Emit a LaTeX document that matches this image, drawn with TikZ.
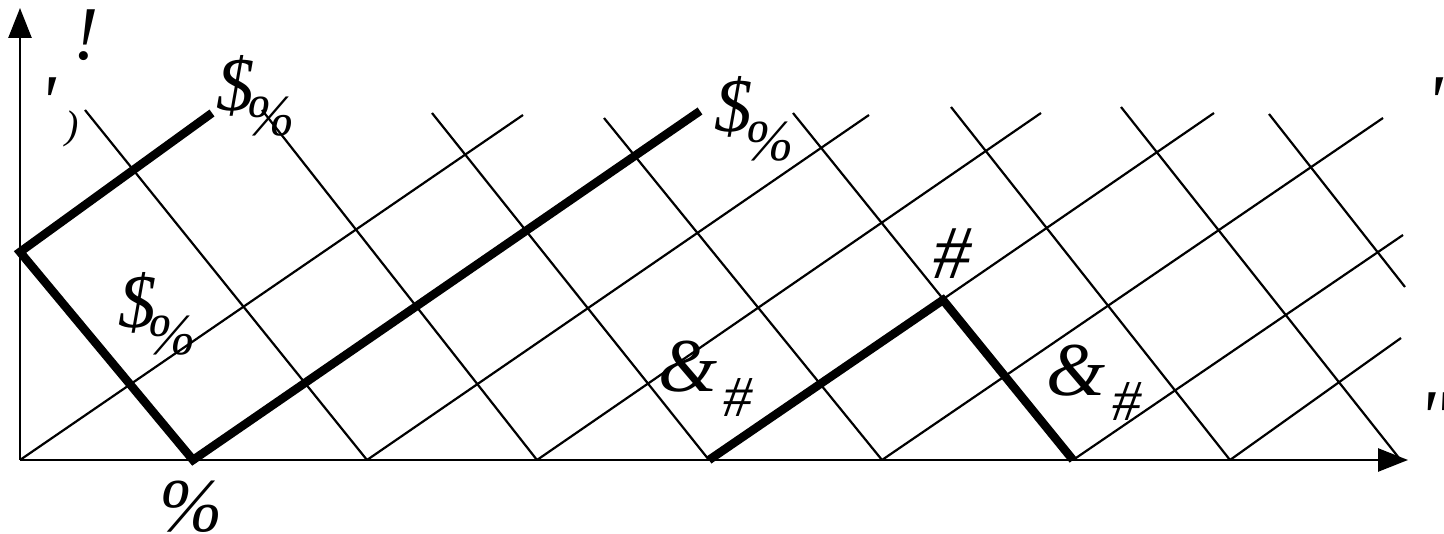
\documentclass[tikz,border=0pt]{standalone}
\usepackage{fontspec}
\newfontfamily\tnr{Liberation Serif}
\usetikzlibrary{arrows.meta}
\begin{document}
\begin{tikzpicture}[x=1pt,y=-1pt,
  gridline/.style={line width=2.2pt},
  boldline/.style={line width=8.5pt, line join=miter},
  axisline/.style={line width=2.6pt,-{Triangle[length=30pt,width=23pt]}},
  lbl/.style={inner sep=0pt, font=\tnr\fontsize{76}{80}\selectfont\itshape},
  sublbl/.style={inner sep=0pt, font=\tnr\fontsize{58}{62}\selectfont\itshape},
  smalllbl/.style={inner sep=0pt, font=\tnr\fontsize{40}{44}\selectfont\itshape}]
\useasboundingbox (0,0) rectangle (1444,534);
% axes
\coordinate (O) at (20,460);
\coordinate (X) at (1408,460);
\coordinate (Y) at (20,8);
% bottom points
\coordinate (b1) at (193,460);
\coordinate (b2) at (367,460);
\coordinate (b3) at (537,460);
\coordinate (b4) at (709,460);
\coordinate (b5) at (882,460);
\coordinate (b6) at (1073,460);
\coordinate (b7) at (1230,460);
\coordinate (b8) at (1399,458);
% top starts of falling lines
\coordinate (t1) at (85,110);
\coordinate (t2) at (262,110);
\coordinate (t3) at (432,113);
\coordinate (t4) at (604,118);
\coordinate (t5) at (793,113);
\coordinate (t6) at (951,107);
\coordinate (t7) at (1121,107);
\coordinate (t8) at (1269,114);
\coordinate (r1) at (1405,287);
% top ends of rising lines
\coordinate (u1) at (523,115);
\coordinate (u2) at (700,111);
\coordinate (u3) at (869,115);
\coordinate (u4) at (1041,113);
\coordinate (u5) at (1214,113);
\coordinate (u6) at (1383,118);
\coordinate (r2) at (1403,235);
\coordinate (r3) at (1401,338);
% thick path points
\coordinate (L) at (20,252);
\coordinate (A) at (212,113);
\coordinate (P) at (943,300);
% falling grid lines
\foreach \s/\e in {t1/b2,t2/b3,t3/b4,t4/b5,t5/b6,t6/b7,t7/b8,t8/r1}
  \draw[gridline] (\s) -- (\e);
% rising grid lines
\foreach \s/\e in {O/u1,b2/u3,b3/u4,b4/u5,b5/u6,b6/r2,b7/r3}
  \draw[gridline] (\s) -- (\e);
% axes
\draw[axisline] (O) -- (X);
\draw[axisline] (O) -- (Y);
% bold paths
\draw[boldline] (A) -- (L) -- (b1) -- (u2);
\draw[boldline] (b4) -- (P) -- (b6);
% labels
\node[lbl] (l1) at (86,35) {!};
\node[lbl] (l2) at (48,103) {'};
\node[smalllbl] (l3) at (72,129) {)};
\node[lbl] (d1) at (235,86) {\$};
\node[sublbl] (p1) at (271,117) {\%};
\node[lbl] (d2) at (733,107) {\$};
\node[sublbl] (p2) at (770,142) {\%};
\node[lbl] (d3) at (137,303) {\$};
\node[sublbl] (p3) at (172,336) {\%};
\node[lbl] (a1) at (688,367) {\&};
\node[sublbl] (h1) at (738,398) {\#};
\node[lbl] (h2) at (952,254) {\#};
\node[lbl] (a2) at (1076,371) {\&};
\node[sublbl] (h3) at (1127,402) {\#};
\node[lbl] (p4) at (191,507) {\%};
\node[lbl] (q1) at (1435,103) {'};
\node[lbl, anchor=west] (q2) at (1418,418) {"};
\end{tikzpicture}
\end{document}
